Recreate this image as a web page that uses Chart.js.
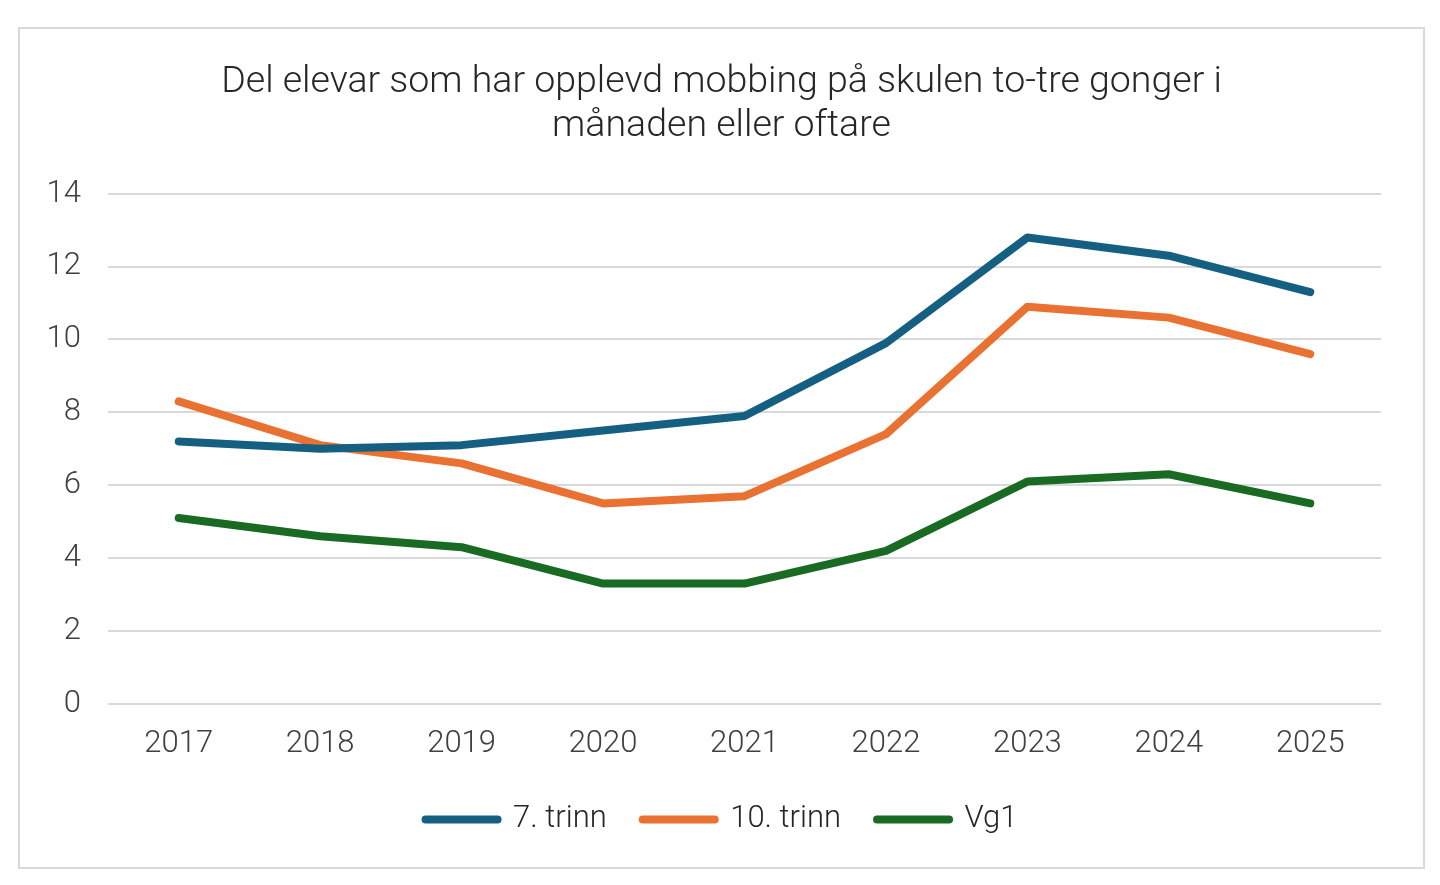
<!DOCTYPE html>
<html>
<head>
<meta charset="utf-8">
<script src="https://cdn.jsdelivr.net/npm/chart.js@4.4.1/dist/chart.umd.min.js"></script>
<style>
  html, body { margin: 0; padding: 0; background: #fff; }
  #frame {
    position: absolute; left: 18px; top: 27px;
    width: 1403px; height: 838px;
    border: 2px solid #d9d9d9;
  }
  #chart { display: block; }
</style>
</head>
<body>
<div id="frame"><canvas id="chart" width="1403" height="838"></canvas></div>
<script>
  const years = ['2017', '2018', '2019', '2020', '2021', '2022', '2023', '2024', '2025'];
  const trinn7 = [7.2, 7.0, 7.1, 7.5, 7.9, 9.9, 12.8, 12.3, 11.3];
  const trinn10 = [8.3, 7.1, 6.6, 5.5, 5.7, 7.4, 10.9, 10.6, 9.6];
  const vg1 = [5.1, 4.6, 4.3, 3.3, 3.3, 4.2, 6.1, 6.3, 5.5];
  const titleLines = ['Del elevar som har opplevd mobbing på skulen to-tre gonger i', 'månaden eller oftare'];

  const font = 'Roboto';
  const line = (label, data, color) => ({
    label, data,
    borderColor: color, backgroundColor: color,
    borderWidth: 8, pointRadius: 0, tension: 0,
    borderCapStyle: 'round', borderJoinStyle: 'round'
  });

  new Chart(document.getElementById('chart'), {
    type: 'line',
    data: {
      labels: years,
      datasets: [
        line('7. trinn', trinn7, '#156082'),
        line('10. trinn', trinn10, '#E97132'),
        line('Vg1', vg1, '#196B24')
      ]
    },
    options: {
      responsive: false,
      animation: false,
      layout: { padding: { top: 32, left: 21, right: 21, bottom: 22 } },
      plugins: {
        tooltip: { enabled: false },
        title: {
          display: true, text: titleLines, color: '#262626',
          font: { family: font, size: 37.5, weight: 300, lineHeight: 1.17 },
          padding: { top: 0, bottom: 45 }
        },
        legend: {
          position: 'bottom',
          labels: {
            color: '#262626', padding: 36,
            usePointStyle: true, pointStyle: 'line', pointStyleWidth: 72, boxHeight: 8,
            font: { family: font, size: 31, weight: 300 },
            generateLabels(chart) {
              return Chart.defaults.plugins.legend.labels.generateLabels(chart)
                .map(l => Object.assign(l, { lineCap: 'round', lineWidth: 8 }));
            }
          }
        }
      },
      scales: {
        x: {
          offset: true,
          afterFit(s) { s.height -= 9; },
          grid: { display: false },
          border: { display: false },
          ticks: { color: '#404040', padding: 14, font: { family: font, size: 31, weight: 300 } }
        },
        y: {
          min: 0, max: 14,
          afterFit(s) { s.width = 67; },
          ticks: { stepSize: 2, color: '#404040', padding: 27, font: { family: font, size: 31, weight: 300 } },
          grid: { color: '#d9d9d9', lineWidth: 2, drawTicks: false },
          border: { display: false }
        },
        right: {
          position: 'right',
          afterFit(s) { s.width = 21; },
          ticks: { display: false },
          grid: { display: false },
          border: { display: false }
        }
      }
    }
  });
</script>
</body>
</html>
